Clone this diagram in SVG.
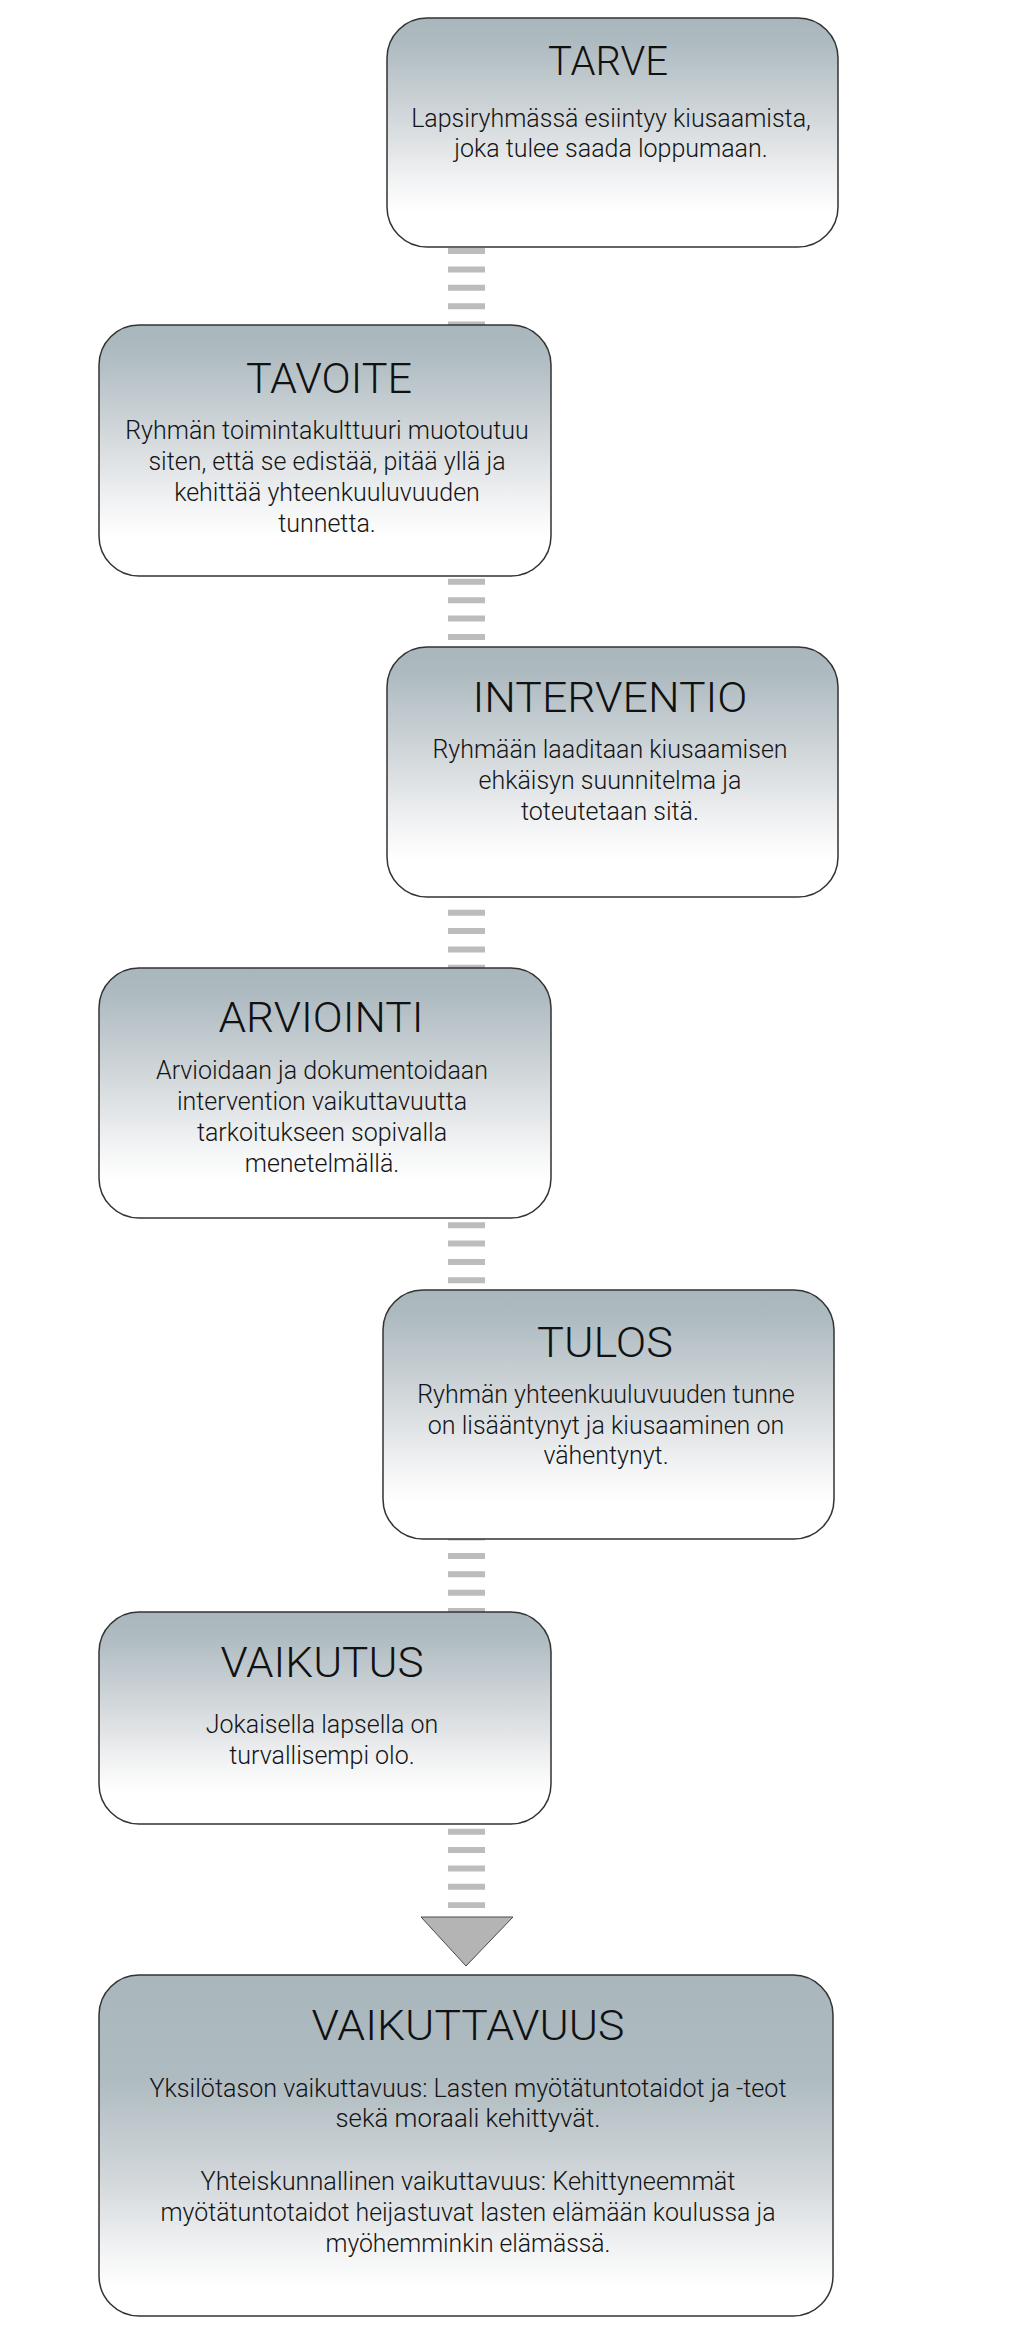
<svg xmlns="http://www.w3.org/2000/svg" width="1024" height="2339" viewBox="0 0 1024 2339">
<defs>
<linearGradient id="g" x1="0" y1="0" x2="0" y2="1">
<stop offset="0" stop-color="#a9b7bd"/>
<stop offset="0.1" stop-color="#adbac0"/>
<stop offset="0.45" stop-color="#d4d9dc"/>
<stop offset="0.7" stop-color="#f1f2f3"/>
<stop offset="0.85" stop-color="#ffffff"/>
</linearGradient>
<linearGradient id="g2" x1="0" y1="0" x2="0" y2="1">
<stop offset="0" stop-color="#a9b7bd"/>
<stop offset="0.3" stop-color="#aebbc1"/>
<stop offset="0.6" stop-color="#d2d7da"/>
<stop offset="0.8" stop-color="#f1f2f3"/>
<stop offset="0.92" stop-color="#ffffff"/>
</linearGradient>
<style>
.box{fill:url(#g);stroke:#333;stroke-width:1.5}
.box2{fill:url(#g2);stroke:#333;stroke-width:1.5}
.t{font-family:Roboto,"Liberation Sans",Arial,sans-serif;font-weight:300;font-size:43px;fill:#111;text-anchor:middle}
.b{font-family:Roboto,"Liberation Sans",Arial,sans-serif;font-weight:300;font-size:25px;fill:#141414;text-anchor:middle}
.bc{font-family:Roboto,"Liberation Sans",Arial,sans-serif;font-weight:300;font-size:25px;fill:#141414;text-anchor:middle}
.dash{stroke:#bcbcbc;stroke-width:37;stroke-dasharray:6 12.38;fill:none}
.arrow{fill:#b4b4b4;stroke:#4a4a4a;stroke-width:1}
</style>
</defs>
<rect width="1024" height="2339" fill="#ffffff"/>
<g id="connectors">
<path class="dash" d="M466.5 248 V1908"/>
<polygon class="arrow" points="421,1917 513,1917 466,1966"/>
</g>
<g id="tarve">
<rect class="box" x="387" y="18" width="451" height="229" rx="40"/>
<text class="t" x="608" y="75" style="font-size:40px" textLength="120" lengthAdjust="spacingAndGlyphs">TARVE</text>
<text class="b" x="611" y="127">Lapsiryhmässä esiintyy kiusaamista,</text>
<text class="b" x="611" y="157">joka tulee saada loppumaan.</text>
</g>
<g id="tavoite">
<rect class="box" x="99" y="325" width="452" height="251" rx="40"/>
<text class="t" x="329" y="393" textLength="166" lengthAdjust="spacingAndGlyphs">TAVOITE</text>
<text class="b" x="327" y="439">Ryhmän toimintakulttuuri muotoutuu</text>
<text class="b" x="327" y="470">siten, että se edistää, pitää yllä ja</text>
<text class="b" x="327" y="501">kehittää yhteenkuuluvuuden</text>
<text class="b" x="327" y="532">tunnetta.</text>
</g>
<g id="interventio">
<rect class="box" x="387" y="647" width="451" height="250" rx="40"/>
<text class="t" x="610" y="712" textLength="275" lengthAdjust="spacingAndGlyphs">INTERVENTIO</text>
<text class="b" x="610" y="758">Ryhmään laaditaan kiusaamisen</text>
<text class="b" x="610" y="789">ehkäisyn suunnitelma ja</text>
<text class="b" x="610" y="820">toteutetaan sitä.</text>
</g>
<g id="arviointi">
<rect class="box" x="99" y="968" width="452" height="250" rx="40"/>
<text class="t" x="321" y="1032" textLength="205" lengthAdjust="spacingAndGlyphs">ARVIOINTI</text>
<text class="b" x="322" y="1079">Arvioidaan ja dokumentoidaan</text>
<text class="b" x="322" y="1110">intervention vaikuttavuutta</text>
<text class="b" x="322" y="1141">tarkoitukseen sopivalla</text>
<text class="b" x="322" y="1172">menetelmällä.</text>
</g>
<g id="tulos">
<rect class="box" x="383" y="1290" width="451" height="249" rx="40"/>
<text class="t" x="605" y="1357" textLength="136" lengthAdjust="spacingAndGlyphs">TULOS</text>
<text class="b" x="606" y="1403">Ryhmän yhteenkuuluvuuden tunne</text>
<text class="b" x="606" y="1434">on lisääntynyt ja kiusaaminen on</text>
<text class="b" x="606" y="1464">vähentynyt.</text>
</g>
<g id="vaikutus">
<rect class="box" x="99" y="1612" width="452" height="212" rx="40"/>
<text class="t" x="322" y="1677" textLength="203" lengthAdjust="spacingAndGlyphs">VAIKUTUS</text>
<text class="b" x="322" y="1733">Jokaisella lapsella on</text>
<text class="b" x="322" y="1764">turvallisempi olo.</text>
</g>
<g id="vaikuttavuus">
<rect class="box2" x="99" y="1975" width="734" height="341" rx="40"/>
<text class="t" x="468" y="2040" textLength="313" lengthAdjust="spacingAndGlyphs">VAIKUTTAVUUS</text>
<text class="bc" x="468" y="2097" textLength="637" lengthAdjust="spacingAndGlyphs">Yksilötason vaikuttavuus: Lasten myötätuntotaidot ja -teot</text>
<text class="bc" x="468" y="2127" textLength="265" lengthAdjust="spacingAndGlyphs">sekä moraali kehittyvät.</text>
<text class="bc" x="468" y="2190" textLength="535" lengthAdjust="spacingAndGlyphs">Yhteiskunnallinen vaikuttavuus: Kehittyneemmät</text>
<text class="bc" x="468" y="2221" textLength="615" lengthAdjust="spacingAndGlyphs">myötätuntotaidot heijastuvat lasten elämään koulussa ja</text>
<text class="bc" x="468" y="2252" textLength="285" lengthAdjust="spacingAndGlyphs">myöhemminkin elämässä.</text>
</g>
</svg>
